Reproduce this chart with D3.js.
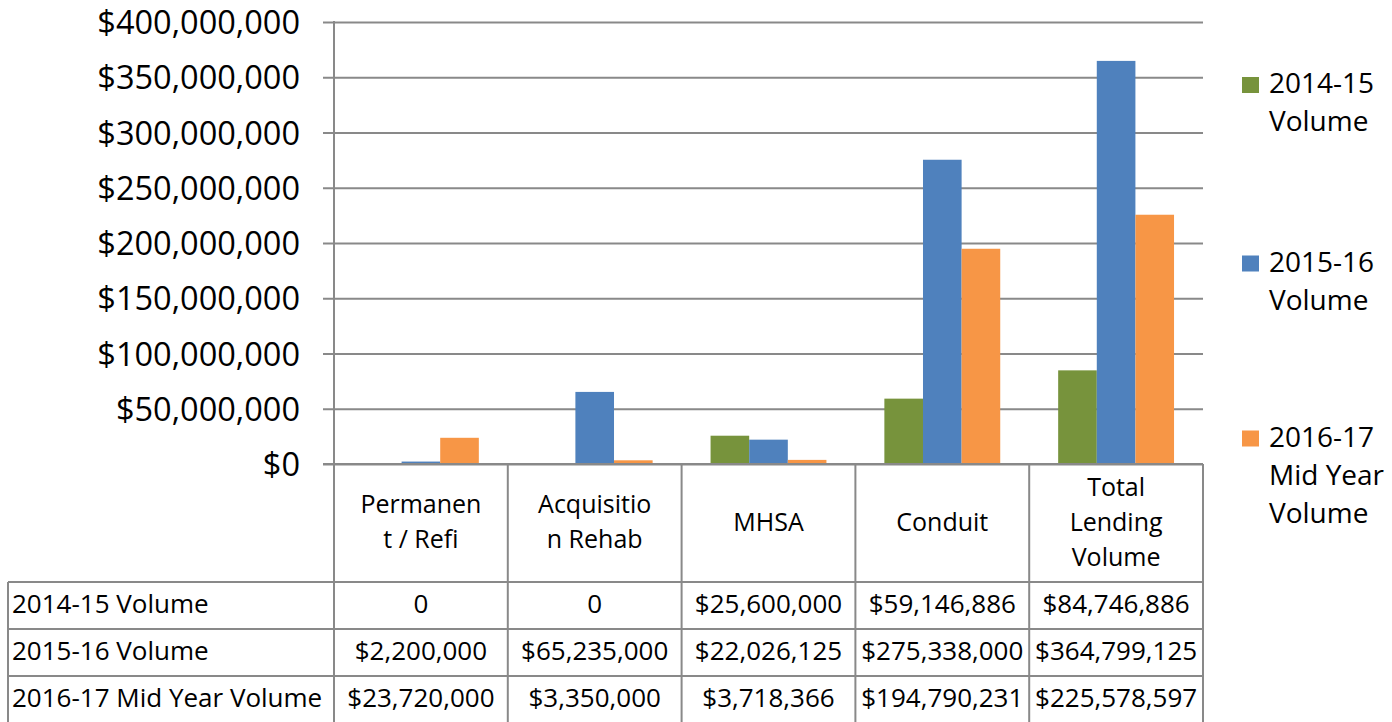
<!DOCTYPE html>
<html>
<head>
<meta charset="utf-8">
<script src="https://cdn.jsdelivr.net/npm/d3@7"></script>
<style>
  html, body { margin: 0; padding: 0; background: #fff; }
  svg { display: block; }
  text { font-family: "Open Sans", Lato, sans-serif; fill: #000; }
</style>
</head>
<body>
<svg id="chart" width="1392" height="722"></svg>
<script>
// ---- Data ----
const categories = ["Permanent / Refi", "Acquisition Rehab", "MHSA", "Conduit", "Total Lending Volume"];
const categoryLines = [["Permanen", "t / Refi"], ["Acquisitio", "n Rehab"], ["MHSA"], ["Conduit"], ["Total", "Lending", "Volume"]];
const seriesNames = ["2014-15 Volume", "2015-16 Volume", "2016-17 Mid Year Volume"];
const legendLines = [["2014-15", "Volume"], ["2015-16", "Volume"], ["2016-17", "Mid Year", "Volume"]];
const values2014 = [0, 0, 25600000, 59146886, 84746886];
const values2015 = [2200000, 65235000, 22026125, 275338000, 364799125];
const values2016 = [23720000, 3350000, 3718366, 194790231, 225578597];
const tableText2014 = ["0", "0", "$25,600,000", "$59,146,886", "$84,746,886"];
const tableText2015 = ["$2,200,000", "$65,235,000", "$22,026,125", "$275,338,000", "$364,799,125"];
const tableText2016 = ["$23,720,000", "$3,350,000", "$3,718,366", "$194,790,231", "$225,578,597"];
const yTicks = [0, 50000000, 100000000, 150000000, 200000000, 250000000, 300000000, 350000000, 400000000];
const colors = ["#77933C", "#4F81BD", "#F79646"];

const seriesValues = [values2014, values2015, values2016];
const seriesTable = [tableText2014, tableText2015, tableText2016];

// ---- Layout ----
const svg = d3.select("#chart");
const plotLeft = 334, plotRight = 1203, plotTop = 22, plotBottom = 464;
const gridColor = "#898989";
const FONT = "'Open Sans', Lato, sans-serif";

const x0 = d3.scaleBand().domain(categories).range([plotLeft, plotRight]).paddingInner(0).paddingOuter(0);
const x1 = d3.scaleBand().domain(seriesNames).range([0, x0.bandwidth()]).paddingInner(0).paddingOuter(0.75);
const y = d3.scaleLinear().domain([0, 400000000]).range([plotBottom, plotTop]);

// y axis with gridlines
const fmt = v => "$" + d3.format(",")(v);
const yAxis = d3.axisLeft(y).tickValues(yTicks).tickFormat(fmt)
  .tickSizeInner(-(plotRight - plotLeft)).tickSizeOuter(0).tickPadding(34);
const gy = svg.append("g").attr("transform", `translate(${plotLeft},0)`).call(yAxis);
gy.select(".domain").remove();
gy.selectAll(".tick line").attr("stroke", gridColor).attr("stroke-width", 2).attr("x1", -11);
gy.selectAll(".tick text").style("font-size", "32.5px").style("font-family", FONT).attr("fill", "#000").attr("dy", "0.36em");

// bars
const groups = svg.append("g").selectAll("g").data(categories).join("g")
  .attr("transform", d => `translate(${x0(d)},0)`);
groups.selectAll("rect").data((c, ci) => seriesNames.map((s, si) => ({ s, si, v: seriesValues[si][ci] })))
  .join("rect")
  .attr("x", d => x1(d.s))
  .attr("width", x1.bandwidth())
  .attr("y", d => y(d.v))
  .attr("height", d => y(0) - y(d.v))
  .attr("fill", d => colors[d.si]);

// axis line and plot left border
svg.append("line").attr("x1", plotLeft).attr("x2", plotLeft).attr("y1", plotTop - 1).attr("y2", 722)
  .attr("stroke", gridColor).attr("stroke-width", 2);
svg.append("line").attr("x1", plotLeft - 11).attr("x2", plotRight).attr("y1", y(0)).attr("y2", y(0))
  .attr("stroke", gridColor).attr("stroke-width", 2);

// ---- Data table ----
const headerBottom = 582, rowH = 47, tableLeft = 8;
const tbl = svg.append("g");
x0.domain().forEach((c, i) => {
  const xr = x0(c) + x0.bandwidth();
  tbl.append("line").attr("x1", xr).attr("x2", xr).attr("y1", plotBottom).attr("y2", 722)
    .attr("stroke", gridColor).attr("stroke-width", 2);
});
tbl.append("line").attr("x1", tableLeft).attr("x2", tableLeft).attr("y1", headerBottom).attr("y2", 722)
  .attr("stroke", gridColor).attr("stroke-width", 2);
[0, 1, 2, 3].forEach(i => {
  const yy = headerBottom + i * rowH;
  tbl.append("line").attr("x1", tableLeft).attr("x2", plotRight).attr("y1", yy).attr("y2", yy)
    .attr("stroke", gridColor).attr("stroke-width", 2);
});
categories.forEach((c, ci) => {
  const lines = categoryLines[ci];
  const cx = x0(c) + x0.bandwidth() / 2;
  lines.forEach((ln, li) => {
    tbl.append("text").attr("x", cx).attr("y", 530.5 + (li - (lines.length - 1) / 2) * 35)
      .attr("text-anchor", "middle").style("font-size", "25px").text(ln);
  });
});
seriesNames.forEach((s, si) => {
  const base = headerBottom + si * rowH + 31;
  tbl.append("text").attr("x", 12).attr("y", base).style("font-size", "26px").text(s);
  categories.forEach((c, ci) => {
    tbl.append("text").attr("x", x0(c) + x0.bandwidth() / 2).attr("y", base)
      .attr("text-anchor", "middle").style("font-size", "26px").text(seriesTable[si][ci]);
  });
});

// ---- Legend ----
const legendTops = [93, 271.5, 446.5];
const lg = svg.append("g");
seriesNames.forEach((s, si) => {
  const b = legendTops[si];
  lg.append("rect").attr("x", 1242).attr("y", b - 16).attr("width", 17).attr("height", 16).attr("fill", colors[si]);
  legendLines[si].forEach((ln, li) => {
    lg.append("text").attr("x", 1269).attr("y", b + li * 38).style("font-size", "28px").text(ln);
  });
});
</script>
</body>
</html>
